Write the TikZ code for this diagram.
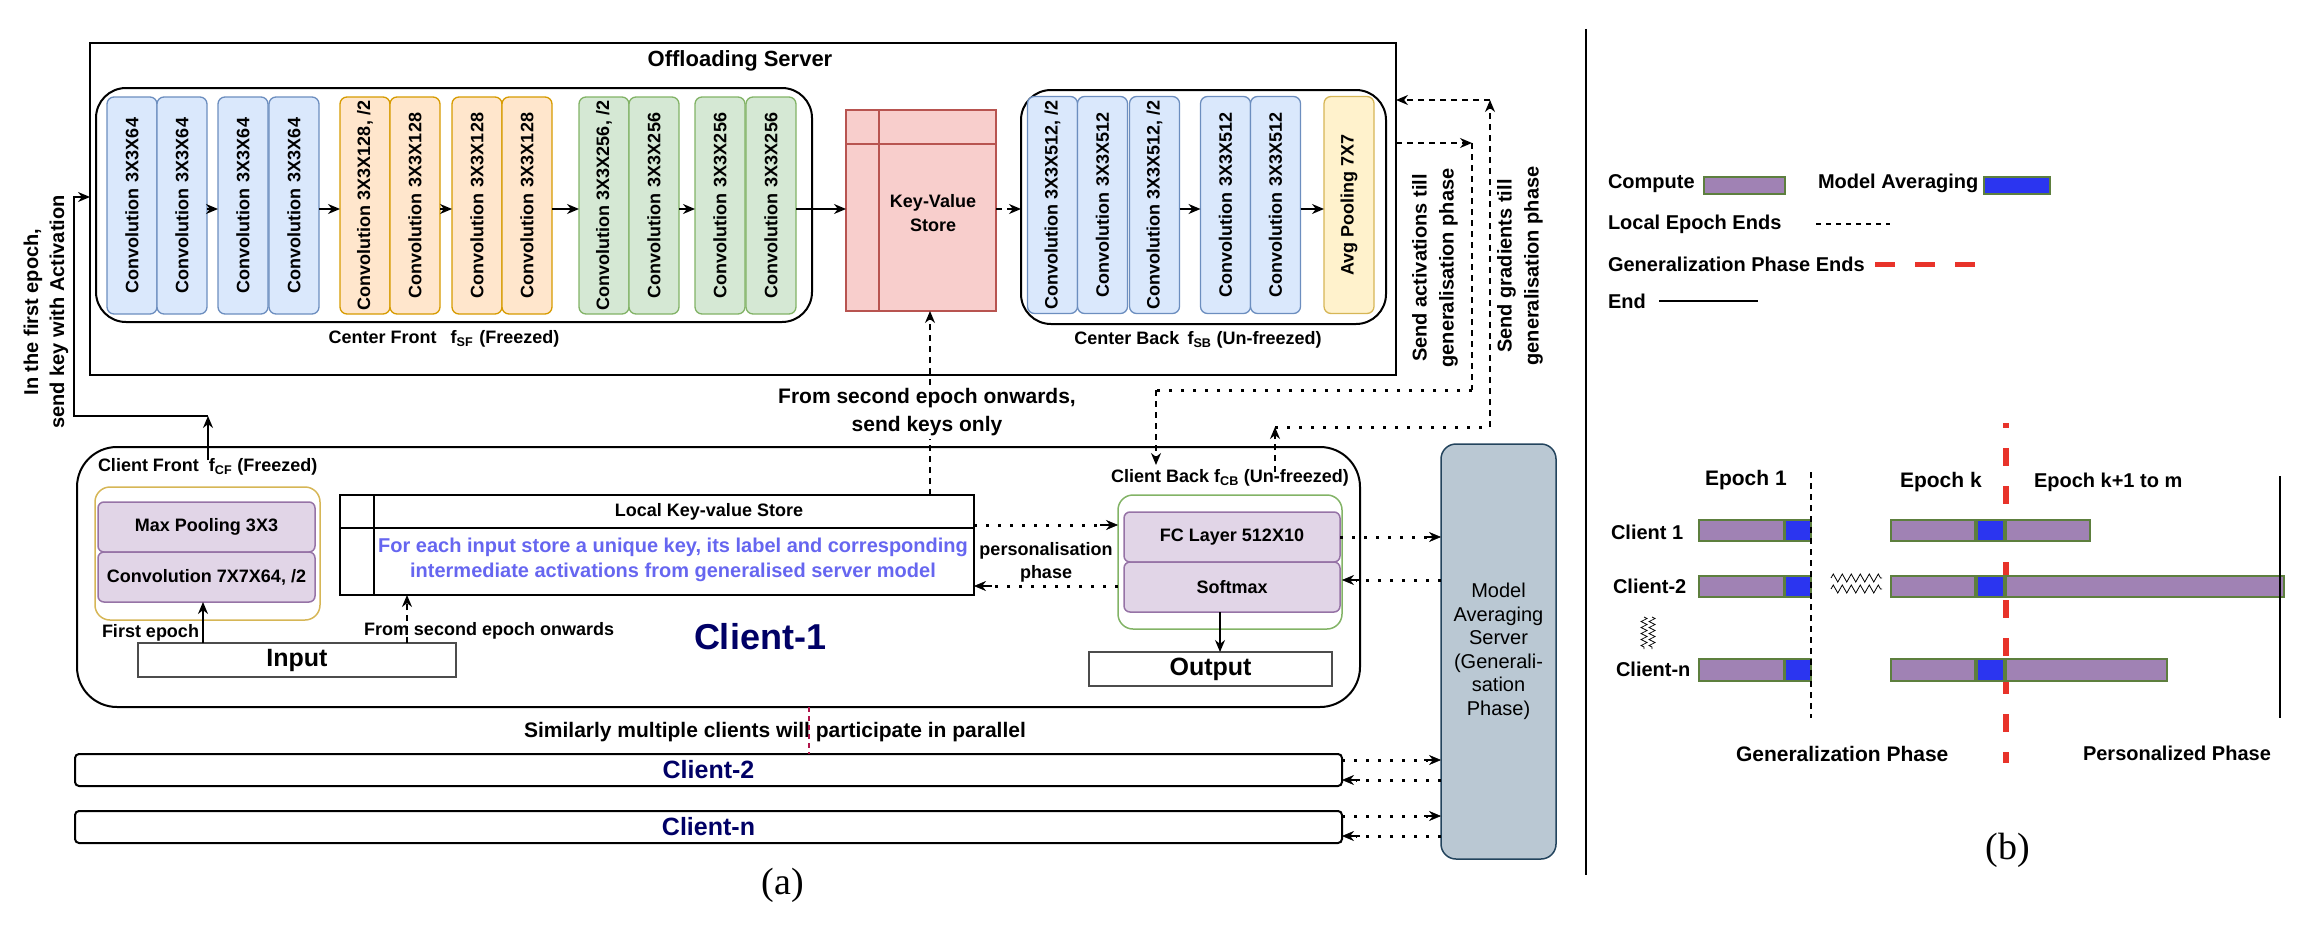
\documentclass[tikz,border=0pt]{standalone}
\usepackage{fontspec}
\setmainfont{Liberation Sans}
\newfontfamily\capfont{Liberation Serif}
\usepackage{graphicx}
\usetikzlibrary{arrows.meta,decorations.pathmorphing}
\definecolor{bfill}{HTML}{DAE8FC}\definecolor{bdraw}{HTML}{6C8EBF}
\definecolor{ofill}{HTML}{FFE6CC}\definecolor{odraw}{HTML}{D79B00}
\definecolor{gfill}{HTML}{D5E8D4}\definecolor{gdraw}{HTML}{82B366}
\definecolor{rfill}{HTML}{F8CECC}\definecolor{rdraw}{HTML}{B85450}
\definecolor{yfill}{HTML}{FFF2CC}\definecolor{ydraw}{HTML}{D6B656}
\definecolor{pfill}{HTML}{E1D5E7}\definecolor{pdraw}{HTML}{9673A6}
\definecolor{mfill}{HTML}{BAC8D3}\definecolor{mdraw}{HTML}{23445D}
\definecolor{navy}{HTML}{000066}
\definecolor{kvblue}{HTML}{6666F0}
\definecolor{barp}{HTML}{A082B4}\definecolor{barb}{HTML}{2B35F0}
\definecolor{barline}{HTML}{5D7F3E}
\definecolor{phred}{HTML}{E8332A}
\definecolor{crimson}{HTML}{B0154A}
\tikzset{
  every node/.style={inner sep=0pt, outer sep=0pt},
  sz/.style 2 args={minimum width=#1pt, minimum height=#2pt},
  lay/.style={rounded corners=7pt, line width=1.3pt, minimum width=50pt, minimum height=217pt, font=\fontsize{18}{20}\selectfont\bfseries},
  blay/.style={lay, draw=bdraw, fill=bfill},
  olay/.style={lay, draw=odraw, fill=ofill},
  glay/.style={lay, draw=gdraw, fill=gfill},
  ylay/.style={lay, draw=ydraw, fill=yfill},
  frame/.style={draw, line width=2pt},
  pbox/.style={draw=pdraw, fill=pfill, line width=1.5pt, rounded corners=6pt, font=\fontsize{18}{20}\selectfont\bfseries},
  lbl/.style={font=\fontsize{18}{22}\selectfont\bfseries},
  lbig/.style={font=\fontsize{21}{28}\selectfont\bfseries, align=center},
  arr/.style={line width=1.5pt, -{Stealth[length=12pt,width=10pt]}},
  darr/.style={-{Stealth[length=12pt,width=10pt,line width=0.5pt]}},
  dashl/.style={line width=1.5pt, dash pattern=on 6pt off 5pt},
  dotl/.style={line width=3pt, dash pattern=on 3pt off 9pt},
  bar/.style={draw=barline, line width=1.5pt},
  leg/.style={font=\fontsize{20}{24}\selectfont\bfseries, anchor=west},
}
\begin{document}
\begin{tikzpicture}[x=1pt,y=-1pt]
\useasboundingbox (0,0) rectangle (2306,942);
% ================= Panel (a) =================
% Offloading server
\node[frame, sz={1306}{332}] (server) at (743,209) {};
\node[font=\fontsize{22}{26}\selectfont\bfseries] (srvtitle) at (740,61) {Offloading Server};
\node[frame, rounded corners=30pt, sz={716}{234}] (cfront) at (454,205) {};
\node[frame, rounded corners=30pt, sz={365}{234}] (cback) at (1203.5,207) {};
\node[lbl] (cflbl) at (444,339) {Center Front\hspace{14pt}f\textsubscript{SF}\hspace{6pt}(Freezed)};
\node[lbl] (cblbl) at (1198,340) {Center Back\hspace{8pt}f\textsubscript{SB} (Un-freezed)};
% layers
\node[blay] (c1) at (132,205.5) {\rotatebox{90}{Convolution\hspace{6pt}3X3X64}};
\node[blay] (c2) at (182,205.5) {\rotatebox{90}{Convolution\hspace{6pt}3X3X64}};
\node[blay] (c3) at (243,205.5) {\rotatebox{90}{Convolution\hspace{6pt}3X3X64}};
\node[blay] (c4) at (294,205.5) {\rotatebox{90}{Convolution\hspace{6pt}3X3X64}};
\node[olay] (o1) at (365,205.5) {\rotatebox{90}{Convolution 3X3X128, /2}};
\node[olay] (o2) at (415,205.5) {\rotatebox{90}{Convolution\hspace{6pt}3X3X128}};
\node[olay] (o3) at (477,205.5) {\rotatebox{90}{Convolution\hspace{6pt}3X3X128}};
\node[olay] (o4) at (527,205.5) {\rotatebox{90}{Convolution\hspace{6pt}3X3X128}};
\node[glay] (g1) at (604,205.5) {\rotatebox{90}{Convolution 3X3X256, /2}};
\node[glay] (g2) at (654,205.5) {\rotatebox{90}{Convolution\hspace{6pt}3X3X256}};
\node[glay] (g3) at (720,205.5) {\rotatebox{90}{Convolution\hspace{6pt}3X3X256}};
\node[glay] (g4) at (771,205.5) {\rotatebox{90}{Convolution\hspace{6pt}3X3X256}};
\node[draw=rdraw, fill=rfill, line width=1.5pt, sz={150}{201}] (kv) at (921,210.5) {};
\draw[rdraw, line width=1.5pt] (kv.north -| 879,0) -- (kv.south -| 879,0);
\draw[rdraw, line width=1.5pt] (kv.west |- 0,144) -- (kv.east |- 0,144);
\node[lbl, align=center, font=\fontsize{18}{24}\selectfont\bfseries] (kvtxt) at (933,213) {Key-Value\\Store};
\node[blay] (b1) at (1052.5,205) {\rotatebox{90}{Convolution 3X3X512, /2}};
\node[blay] (b2) at (1102.5,205) {\rotatebox{90}{Convolution\hspace{6pt}3X3X512}};
\node[blay] (b3) at (1154.5,205) {\rotatebox{90}{Convolution 3X3X512, /2}};
\node[blay] (b4) at (1225.5,205) {\rotatebox{90}{Convolution\hspace{6pt}3X3X512}};
\node[blay] (b5) at (1275.5,205) {\rotatebox{90}{Convolution\hspace{6pt}3X3X512}};
\node[ylay] (avg) at (1349,205) {\rotatebox{90}{Avg Pooling 7X7}};
\coordinate (ay) at (0,209);
\draw[arr] (c2.east |- ay) -- (c3.west |- ay);
\draw[arr] (c4.east |- ay) -- (o1.west |- ay);
\draw[arr] (o2.east |- ay) -- (o3.west |- ay);
\draw[arr] (o4.east |- ay) -- (g1.west |- ay);
\draw[arr] (g2.east |- ay) -- (g3.west |- ay);
\draw[arr] (g4.east |- ay) -- (kv.west |- ay);
\draw[dashl, arr] (kv.east |- ay) -- (cback.west |- ay);
\draw[arr] (b3.east |- ay) -- (b4.west |- ay);
\draw[arr] (b5.east |- ay) -- (avg.west |- ay);

% Client-1
\node[frame, rounded corners=40pt, sz={1283}{260}] (cl1) at (718.5,577) {};
\node[lbl, anchor=west] (cfrlbl) at (98,467) {Client Front\hspace{10pt}f\textsubscript{CF} (Freezed)};
\node[draw=ydraw, line width=1.5pt, rounded corners=15pt, sz={225}{133}] (cfbox) at (207.5,553.5) {};
\node[pbox, sz={217}{50}] (mp) at (206.5,527) {Max Pooling 3X3};
\node[pbox, sz={217}{50}] (cv7) at (206.5,577) {Convolution 7X7X64, /2};
\node[draw=black!70, line width=1.5pt, sz={318}{34}, font=\fontsize{25}{28}\selectfont\bfseries] (inp) at (297,660) {Input};
\node[frame, sz={634}{100}] (lkv) at (657,545) {};
\draw[line width=2pt] (lkv.north -| 374,0) -- (lkv.south -| 374,0);
\draw[line width=2pt] (lkv.west |- 0,528) -- (lkv.east |- 0,528);
\node[lbl] (lkvhead) at (709,512) {Local Key-value Store};
\node[font=\fontsize{20}{25}\selectfont\bfseries, text=kvblue, align=center] (lkvtxt) at (673,560) {For each input store a unique key, its label and corresponding\\intermediate activations from generalised server model};
\node[font=\fontsize{36}{40}\selectfont\bfseries, text=navy] (cl1lbl) at (760,637) {Client-1};
\node[lbl] (cbklbl) at (1230,478) {Client Back f\textsubscript{CB} (Un-freezed)};
\node[draw=gdraw, line width=1.5pt, rounded corners=15pt, sz={224}{134}] (cbbox) at (1230,562) {};
\node[pbox, sz={216}{50}] (fc) at (1232,537) {FC Layer 512X10};
\node[pbox, sz={216}{50}] (sm) at (1232,587) {Softmax};
\node[draw=black!70, line width=1.5pt, sz={243}{34}, font=\fontsize{25}{28}\selectfont\bfseries] (out) at (1210.5,669) {Output};
\node[lbl, anchor=west] (fe) at (102,633) {First epoch};
\node[lbl, anchor=west] (fse) at (364,631) {From second epoch onwards};
\node[lbl, align=center, font=\fontsize{18}{23}\selectfont\bfseries] (pers) at (1046,562) {personalisation\\phase};

% Model averaging server
\node[draw=mdraw, fill=mfill, line width=1.5pt, rounded corners=15pt, sz={115}{415}, align=center, font=\fontsize{20}{23.5}\selectfont] (ma) at (1498.5,651.5) {Model\\Averaging\\Server\\(Generali-\\sation\\Phase)};

% other clients
\node[lbig] (sim) at (775,732) {Similarly multiple clients will participate in parallel};
\node[frame, rounded corners=4pt, sz={1267}{32}, font=\fontsize{25}{28}\selectfont\bfseries, text=navy] (cl2) at (708.5,770) {Client-2};
\node[frame, rounded corners=4pt, sz={1267}{32}, font=\fontsize{25}{28}\selectfont\bfseries, text=navy] (cln) at (708.5,827) {Client-n};
\draw[crimson, line width=1.2pt, dash pattern=on 5pt off 4pt] (cl1.south -| 809,0) -- (cl2.north -| 809,0);

% client-side connectors
\coordinate (cftop) at (208,460);
\coordinate (p1) at (208,416);
\coordinate (p2) at (74,416);
\coordinate (p3) at (74,197);
\draw[arr] (cftop) -- (p1);
\draw[arr] (p1) -- (p2) -- (p3) -- (server.west |- p3);
\node[rotate=90, font=\fontsize{20}{26}\selectfont\bfseries, align=center] (firstlbl) at (46,312) {In the first epoch,\\send key with Activation};
\draw[arr] (inp.north -| 203,0) -- (cv7.south -| 203,0);
\draw[dashl, arr] (inp.north -| 407,0) -- (lkv.south -| 407,0);
\draw[dashl, arr] (lkv.north -| 930,0) -- (kv.south -| 930,0);
\node[lbig, fill=white, inner sep=3pt] (keysonly) at (927,412) {From second epoch onwards,\\send keys only};
\draw[dotl] (lkv.east |- 0,525) -- (1104,525);
\draw[darr, line width=1.5pt] (1100,525) -- (cbbox.west |- 0,525);
\draw[dotl] (cbbox.west |- 0,586) -- (988,586);
\draw[darr, line width=1.5pt] (992,586) -- (lkv.east |- 0,586);
\draw[dotl] (fc.east) -- (1428,537);
\draw[darr, line width=1.5pt] (1424,537) -- (ma.west |- fc.east);
\draw[dotl] (ma.west |- 0,580) -- (1356,580);
\draw[darr, line width=1.5pt] (1360,580) -- (cbbox.east |- 0,580);
\draw[dotl] (cl2.east |- 0,760) -- (1428,760);
\draw[darr, line width=1.5pt] (1424,760) -- (ma.west |- 0,760);
\draw[dotl] (ma.west |- 0,780) -- (1356,780);
\draw[darr, line width=1.5pt] (1360,780) -- (cl2.east |- 0,780);
\draw[dotl] (cln.east |- 0,816) -- (1428,816);
\draw[darr, line width=1.5pt] (1424,816) -- (ma.west |- 0,816);
\draw[dotl] (ma.west |- 0,836) -- (1356,836);
\draw[darr, line width=1.5pt] (1360,836) -- (cln.east |- 0,836);
\draw[arr] (sm.south -| 1220,0) -- (out.north -| 1220,0);

% server <-> client back
\coordinate (a1) at (1472,143);
\coordinate (a2) at (1472,390);
\coordinate (a3) at (1156,390);
\coordinate (a4) at (1156,465);
\draw[dashl, arr] (server.east |- a1) -- (a1);
\draw[dashl] (a1) -- (a2);
\draw[dotl] (a2) -- (a3);
\draw[dashl, arr] (a3) -- (a4);
\coordinate (q0) at (1275,472);
\coordinate (q1) at (1275,427);
\coordinate (q2) at (1490,427);
\coordinate (q3) at (1490,100);
\draw[dashl, arr] (q0) -- (q1);
\draw[dotl] (q1) -- (q2);
\draw[dashl, arr] (q2) -- (q3);
\draw[dashl, arr] (q3) -- (server.east |- q3);
\node[rotate=90, font=\fontsize{20}{27}\selectfont\bfseries, align=center] (actlbl) at (1435,268) {Send activations till\\generalisation phase};
\node[rotate=90, font=\fontsize{20}{27}\selectfont\bfseries, align=center] (gradlbl) at (1520,266) {Send gradients till\\generalisation phase};

\node[font=\fontsize{38}{40}\selectfont\capfont] (capa) at (783,885) {(a)};

% ================= Panel (b) =================
\draw[line width=2pt] (1586,29) -- (1586,875);
\node[leg] (lcomp) at (1608,184) {Compute};
\draw[bar, fill=barp] (1704,177) rectangle (1785,194);
\node[leg] (lma) at (1818,183) {Model Averaging};
\draw[bar, fill=barb] (1984,177) rectangle (2050,194);
\node[leg] (lloc) at (1608,224) {Local Epoch Ends};
\draw[line width=1.3pt, dash pattern=on 5pt off 5pt] (1816,224) -- (1890,224);
\node[leg] (lgen) at (1608,264) {Generalization Phase Ends};
\draw[phred, line width=5pt, dash pattern=on 20pt off 20pt] (1875,264) -- (1975,264);
\node[leg] (lend) at (1608,301) {End};
\draw[line width=1.5pt] (1659,301) -- (1758,301);

\draw[phred, line width=6pt, dash pattern=on 18pt off 20pt, dash phase=13pt] (2006,423) -- (2006,763);
\node[leg, font=\fontsize{21}{24}\selectfont\bfseries] (ep1) at (1705,480) {Epoch 1};
\node[leg, font=\fontsize{21}{24}\selectfont\bfseries] (epk) at (1900,482) {Epoch k};
\node[leg] (epm) at (2034,482) {Epoch k+1 to m};
\node[leg] (rc1) at (1611,532) {Client 1};
\node[leg] (rc2) at (1613,586) {Client-2};
\node[leg] (rcn) at (1616,669) {Client-n};
% bars
\foreach \ya/\yb/\xe in {520/541/2090, 576/597/2284, 659/681/2167}{
  \draw[bar, fill=barp] (1699,\ya) rectangle (1784,\yb);
  \draw[bar, fill=barb] (1785,\ya) rectangle (1811,\yb);
  \draw[bar, fill=barp] (1891,\ya) rectangle (1975,\yb);
  \draw[bar, fill=barb] (1977,\ya) rectangle (2004,\yb);
  \draw[bar, fill=barp] (2006,\ya) rectangle (\xe,\yb);
}
\draw[line width=1.5pt, dash pattern=on 6pt off 5pt] (1811,472) -- (1811,718);
\draw[line width=1.5pt] (2280,476) -- (2280,718);
\draw[line width=0.8pt, decorate, decoration={zigzag, segment length=9pt, amplitude=4pt}] (1831,578) -- (1882,578);
\draw[line width=0.8pt, decorate, decoration={zigzag, segment length=9pt, amplitude=4pt}] (1831,589) -- (1882,589);
\draw[line width=0.7pt, decorate, decoration={zigzag, segment length=6pt, amplitude=3pt}] (1644,617) -- (1644,649);
\draw[line width=0.7pt, decorate, decoration={zigzag, segment length=6pt, amplitude=3pt}] (1652,617) -- (1652,649);
\node[leg, font=\fontsize{21}{24}\selectfont\bfseries] (genph) at (1736,754) {Generalization Phase};
\node[leg] (perph) at (2083,753) {Personalized Phase};
\node[font=\fontsize{38}{40}\selectfont\capfont] (capb) at (2008,850) {(b)};
\end{tikzpicture}
\end{document}
